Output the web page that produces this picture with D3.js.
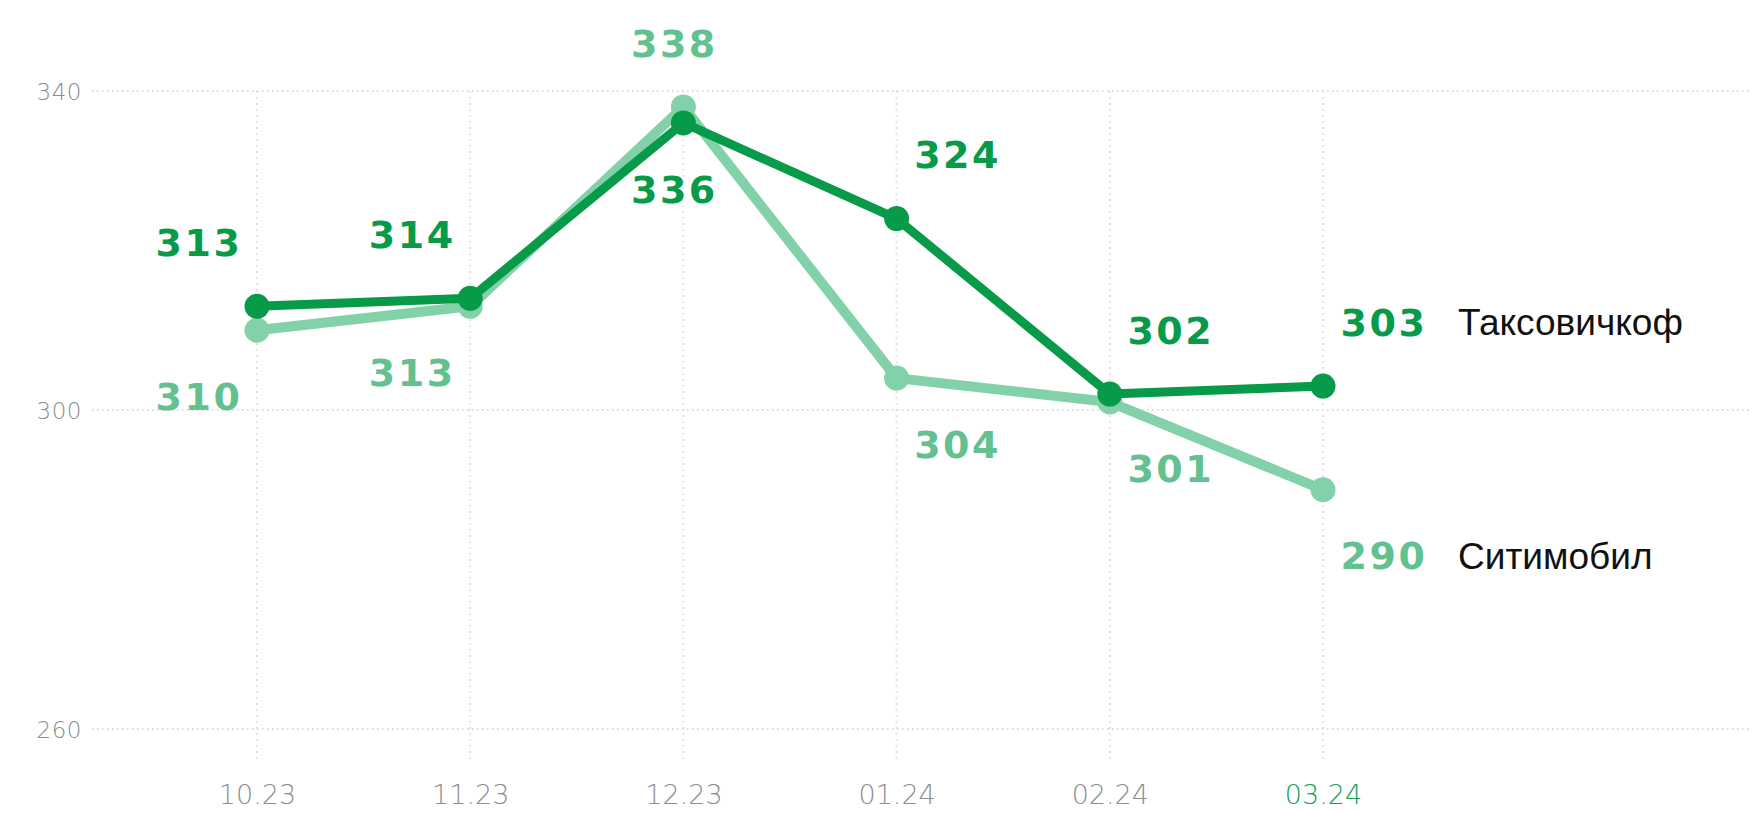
<!DOCTYPE html>
<html>
<head>
<meta charset="utf-8">
<script src="https://cdn.jsdelivr.net/npm/d3@7"></script>
<style>
  html, body { margin: 0; padding: 0; background: #ffffff; }
  svg { display: block; }
</style>
</head>
<body>
<svg id="chart" width="1752" height="813"></svg>
<script>
const categories = ["10.23", "11.23", "12.23", "01.24", "02.24", "03.24"];
const seriesNames = ["Таксовичкоф", "Ситимобил"];
const taksovichkof = [313, 314, 336, 324, 302, 303];
const sitimobil = [310, 313, 338, 304, 301, 290];
const yTicks = [260, 300, 340];

const darkGreen = "#079a48";
const lightGreen = "#83d1a8";
const lightLabel = "#62c18f";

const svg = d3.select("#chart");
const W = 1752, H = 813;

const x = d3.scalePoint().domain(categories).range([257, 1323]).padding(0);
const y = d3.scaleLinear().domain([260, 340]).range([729, 91]);

// horizontal gridlines
const grid = svg.append("g");
grid.selectAll("line.h").data(yTicks).join("line")
  .attr("x1", 92).attr("x2", W)
  .attr("y1", d => y(d)).attr("y2", d => y(d))
  .attr("stroke", "#d9d9d9").attr("stroke-width", 2)
  .attr("stroke-dasharray", "1.5 3.5");

// vertical gridlines
grid.selectAll("line.v").data(categories).join("line")
  .attr("x1", d => x(d)).attr("x2", d => x(d))
  .attr("y1", y(340)).attr("y2", 762)
  .attr("stroke", "#e3e3e3").attr("stroke-width", 2)
  .attr("stroke-dasharray", "2 4");

// y axis labels
const yAxis = d3.axisLeft(y).tickValues(yTicks).tickSize(0).tickPadding(0);
const gy = svg.append("g").attr("transform", "translate(82,0)").call(yAxis);
gy.select(".domain").remove();
gy.selectAll("text")
  .attr("fill", "#8c8c8c").attr("font-family", "'DejaVu Sans', sans-serif")
  .attr("font-weight", 200).attr("letter-spacing", 0.5)
  .attr("font-size", 23).attr("dy", "0.36em");

// x axis labels
const xAxis = d3.axisBottom(x).tickSize(0).tickPadding(0);
const gx = svg.append("g").attr("transform", "translate(0,794)").call(xAxis);
gx.select(".domain").remove();
gx.selectAll("text")
  .attr("fill", (d, i) => i === categories.length - 1 ? "#12a055" : "#8e8e8e")
  .attr("font-family", "'DejaVu Sans', sans-serif").attr("font-weight", 200)
  .attr("font-size", 27).attr("dy", "0.36em");

const line = d3.line().x((d, i) => x(categories[i])).y(d => y(d));

const series = [
  { name: seriesNames[1], values: sitimobil, other: taksovichkof, color: lightGreen, label: lightLabel, width: 10, r: 12.5 },
  { name: seriesNames[0], values: taksovichkof, other: sitimobil, color: darkGreen, label: darkGreen, width: 9, r: 12.5 }
];

series.forEach(s => {
  const g = svg.append("g");
  g.append("path").datum(s.values)
    .attr("d", line).attr("fill", "none")
    .attr("stroke", s.color).attr("stroke-width", s.width)
    .attr("stroke-linejoin", "round").attr("stroke-linecap", "round");
  g.selectAll("circle").data(s.values).join("circle")
    .attr("cx", (d, i) => x(categories[i])).attr("cy", d => y(d))
    .attr("r", s.r).attr("fill", s.color);
});

// value labels
series.forEach(s => {
  const g = svg.append("g");
  g.selectAll("text").data(s.values).join("text")
    .attr("x", (d, i) => x(categories[i]) + (i < 2 ? -58 : i === 2 ? -9 : 61))
    .attr("y", (d, i) => y(d) + (d >= s.other[i] ? -64 : 66))
    .attr("text-anchor", "middle").attr("dy", "0.36em")
    .attr("font-family", "'DejaVu Sans', sans-serif").attr("font-weight", "bold")
    .attr("font-size", 38).attr("letter-spacing", 2.5)
    .attr("fill", s.label)
    .text(d => d);
  const last = s.values.length - 1;
  const v = s.values[last];
  svg.append("text")
    .attr("x", 1458)
    .attr("y", y(v) + (v >= s.other[last] ? -64 : 66))
    .attr("dy", "0.36em")
    .attr("font-family", "'Liberation Sans', Arial, sans-serif")
    .attr("font-size", 37).attr("fill", "#111")
    .text(s.name);
});
</script>
</body>
</html>
